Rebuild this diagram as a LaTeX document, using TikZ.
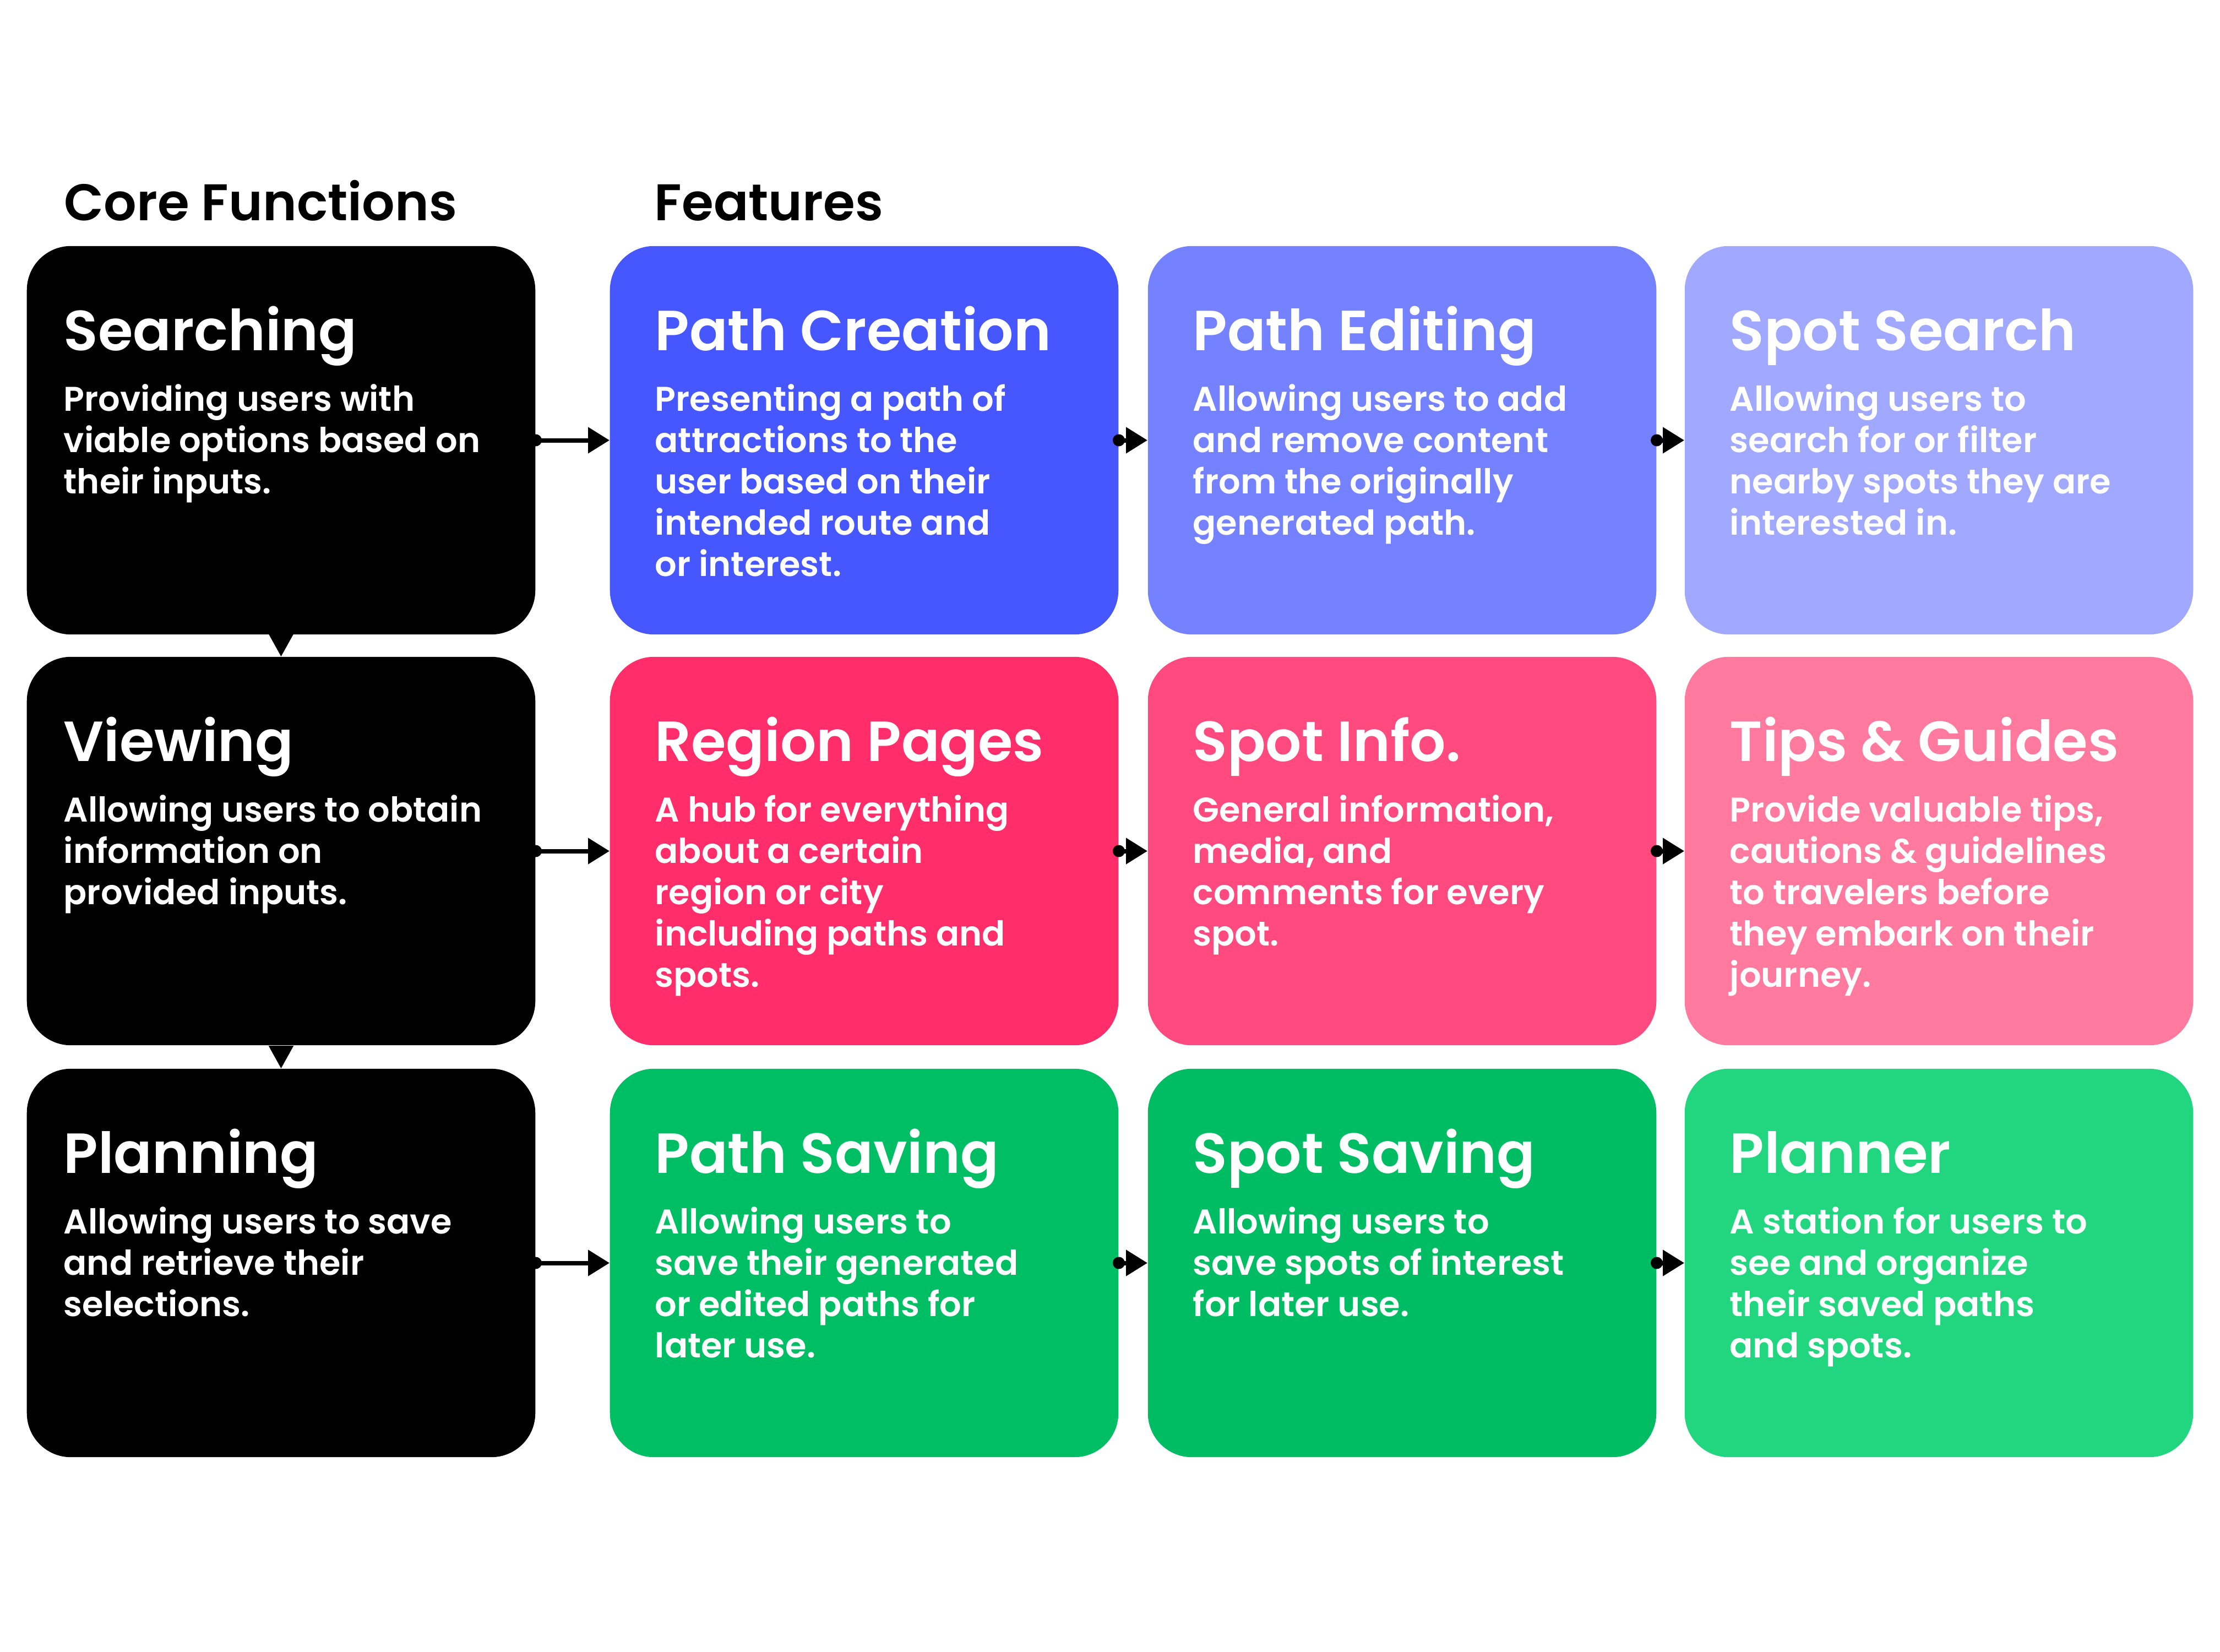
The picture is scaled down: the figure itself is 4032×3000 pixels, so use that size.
\documentclass[tikz,border=0pt]{standalone}
\usepackage{fontspec}
\setmainfont{Poppins}[BoldFont={Poppins SemiBold}]
\usetikzlibrary{arrows.meta,calc}

\definecolor{pcreate}{HTML}{4757FF}
\definecolor{pedit}{HTML}{7582FF}
\definecolor{psearch}{HTML}{A0A8FF}
\definecolor{rpages}{HTML}{FF2E6A}
\definecolor{sinfo}{HTML}{FF4A80}
\definecolor{tguide}{HTML}{FF7A9E}
\definecolor{psave}{HTML}{00BE64}
\definecolor{ssave}{HTML}{00BC62}
\definecolor{plannr}{HTML}{22D680}

\tikzset{
  card/.style={rectangle, rounded corners=0.8cm, minimum width=9.23cm,
    minimum height=7.05cm, inner sep=0pt, draw=none},
  cardtitle/.style={anchor=base west, inner sep=0pt, text=white,
    font=\fontsize{29.2pt}{34pt}\selectfont\bfseries},
  cardbody/.style={anchor=north west, inner sep=0pt, text=white, align=left,
    font=\fontsize{17.7pt}{21.3pt}\selectfont\bfseries},
  heading/.style={anchor=base west, inner sep=0pt, text=black,
    font=\fontsize{26.6pt}{30pt}\selectfont\bfseries},
  hconn/.style={line width=0.08cm, -{Triangle[length=0.39cm,width=0.46cm]}},
  vconn/.style={line width=0.02cm, -{Triangle[length=0.41cm,width=0.45cm]}},
  dot/.style={fill=black},
}

% one card: name, centre, fill colour, title, body lines, text indent
\newcommand{\infocard}[6]{%
  \node[card, fill=#3] (#1) at (#2) {};
  \node[cardtitle] (#1-t) at ($(#1.north west)+(#6,190)$) {#4};
  \node[cardbody] (#1-b) at ($(#1.north west)+(#6,250)$) {\rule{0pt}{0.5cm}#5};
}

\begin{document}
\begin{tikzpicture}[x=0.01cm, y=-0.01cm]
\useasboundingbox[fill=white] (0,0) rectangle (4032,3000);

\node[heading] (hcore) at (116,400) {Core Functions};
\node[heading] (hfeat) at (1188,400) {Features};

% core functions
\infocard{search}{510.5,799.5}{black}{Searching}{Providing users with\\viable options based on\\their inputs.}{67}
\infocard{view}{510.5,1545.5}{black}{Viewing}{Allowing users to obtain\\information on\\provided inputs.}{67}
\infocard{plan}{510.5,2293.5}{black}{Planning}{Allowing users to save\\and retrieve their\\selections.}{67}

% features, first row
\infocard{pc}{1569.5,799.5}{pcreate}{Path Creation}{Presenting a path of\\attractions to the\\user based on their\\intended route and\\or interest.}{82}
\infocard{pe}{2546.5,799.5}{pedit}{Path Editing}{Allowing users to add\\and remove content\\from the originally\\generated path.}{82}
\infocard{ss}{3521.5,799.5}{psearch}{Spot Search}{Allowing users to\\search for or filter\\nearby spots they are\\interested in.}{82}

% features, second row
\infocard{rp}{1569.5,1545.5}{rpages}{Region Pages}{A hub for everything\\about a certain\\region or city\\including paths and\\spots.}{82}
\infocard{si}{2546.5,1545.5}{sinfo}{Spot Info.}{General information,\\media, and\\comments for every\\spot.}{82}
\infocard{tg}{3521.5,1545.5}{tguide}{Tips \& Guides}{Provide valuable tips,\\cautions \& guidelines\\to travelers before\\they embark on their\\journey.}{82}

% features, third row
\infocard{ps}{1569.5,2293.5}{psave}{Path Saving}{Allowing users to\\save their generated\\or edited paths for\\later use.}{82}
\infocard{sp}{2546.5,2293.5}{ssave}{Spot Saving}{Allowing users to\\save spots of interest\\for later use.}{82}
\infocard{pl}{3521.5,2293.5}{plannr}{Planner}{A station for users to\\see and organize\\their saved paths\\and spots.}{82}

% vertical flow between core functions
\draw[vconn] (search.south) -- (view.north);
\draw[vconn] (view.south) -- (plan.north);

% horizontal flow along each row
\foreach \a/\b in {search/pc, pc/pe, pe/ss, view/rp, rp/si, si/tg, plan/ps, ps/sp, sp/pl}{
  \draw[hconn] (\a.east) -- (\b.west);
  \fill[dot] (\a.east) circle (11);
}
\end{tikzpicture}
\end{document}
